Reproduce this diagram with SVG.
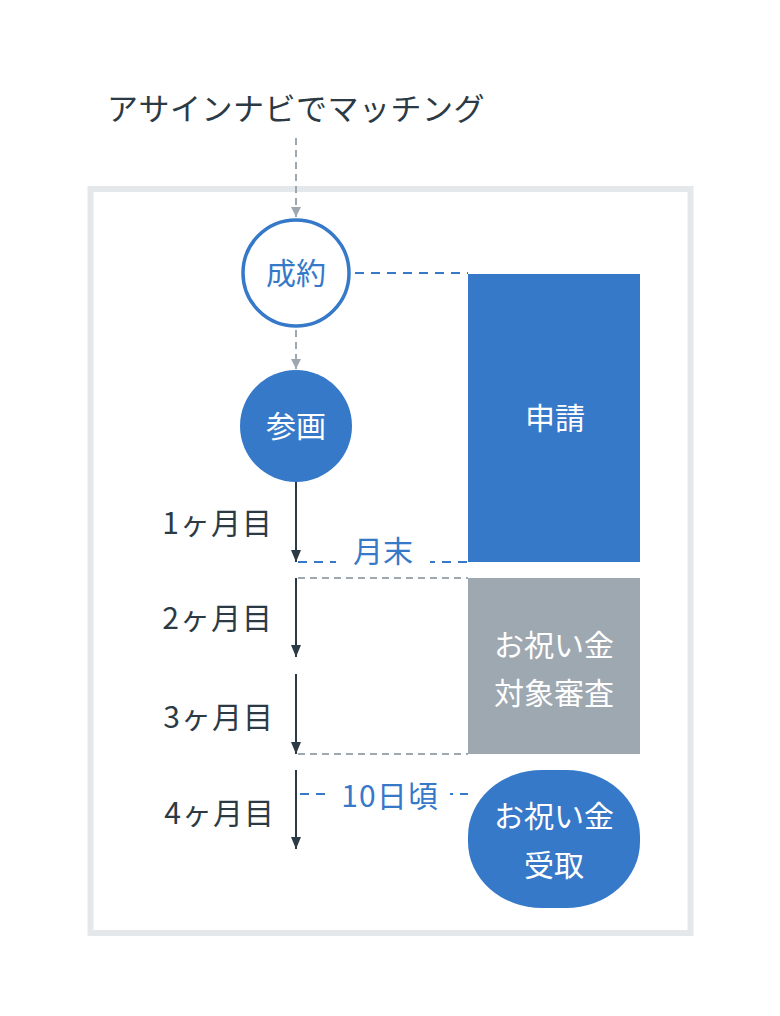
<svg xmlns="http://www.w3.org/2000/svg" width="780" height="1016" viewBox="0 0 780 1016">
<style>
text{font-family:"Noto Sans CJK JP","Noto Sans",sans-serif;font-size:30px;font-weight:400;}
.dark{fill:#2b3a44;}
.blue{fill:#3679c9;}
.white{fill:#ffffff;}
.mid{text-anchor:middle;}
.end{text-anchor:end;}
.lab{letter-spacing:1px;}
.dashGray{stroke:#9ea8b1;stroke-width:2;stroke-dasharray:7 5;fill:none;}
.dashBlue{stroke:#3679c9;stroke-width:2;stroke-dasharray:9 7;fill:none;}
.solid{stroke:#2b3a44;stroke-width:2;fill:none;}
</style>
<defs>
<marker id="arrDark" viewBox="0 0 12 10" refX="12" refY="5" markerWidth="12" markerHeight="10" markerUnits="userSpaceOnUse" orient="auto">
<path d="M0,0 L12,5 L0,10 Z" fill="#2b3a44"/>
</marker>
<marker id="arrGray" viewBox="0 0 10 10" refX="10" refY="5" markerWidth="10" markerHeight="10" markerUnits="userSpaceOnUse" orient="auto">
<path d="M0,0 L10,5 L0,10 Z" fill="#9ea8b1"/>
</marker>
</defs>
<rect width="780" height="1016" fill="#ffffff"/>
<rect id="frame" x="90.5" y="189" width="600" height="744" fill="none" stroke="#e4e8eb" stroke-width="6"/>

<g id="connectors">
<line class="dashGray" x1="296" y1="138" x2="296" y2="217" marker-end="url(#arrGray)"/>
<line class="dashGray" x1="296" y1="330" x2="296" y2="369" marker-end="url(#arrGray)"/>
<line class="dashBlue" x1="355" y1="273" x2="468" y2="273"/>
<line class="solid" x1="296" y1="482" x2="296" y2="562" marker-end="url(#arrDark)"/>
<line class="solid" x1="296" y1="578" x2="296" y2="657" marker-end="url(#arrDark)"/>
<line class="solid" x1="296" y1="674" x2="296" y2="754" marker-end="url(#arrDark)"/>
<line class="solid" x1="296" y1="770" x2="296" y2="849" marker-end="url(#arrDark)"/>
<line class="dashBlue" x1="298" y1="562" x2="468" y2="562"/>
<line class="dashGray" x1="298" y1="578" x2="468" y2="578"/>
<line class="dashGray" x1="298" y1="754" x2="468" y2="754"/>
<line class="dashBlue" x1="300" y1="794" x2="468" y2="794"/>
</g>

<g id="title"><text class="dark mid" x="296" y="120" style="font-size:31px;letter-spacing:0.5px">アサインナビでマッチング</text></g>

<g id="seiyaku">
<circle cx="296" cy="273" r="53" fill="#ffffff" stroke="#3679c9" stroke-width="3.5"/>
<text class="blue mid" x="296" y="284">成約</text>
</g>

<g id="sankaku">
<circle cx="296" cy="426" r="56" fill="#3679c9"/>
<text class="white mid" x="296" y="437">参画</text>
</g>

<g id="shinsei">
<rect x="468" y="274" width="172" height="288" fill="#3679c9"/>
<text class="white mid" x="555" y="429">申請</text>
</g>

<g id="shinsa">
<rect x="468" y="578" width="172" height="176" fill="#9ea8b1"/>
<text class="white mid" x="554" y="656">お祝い金</text>
<text class="white mid" x="554" y="704">対象審査</text>
</g>

<g id="jushu">
<rect x="468" y="770" width="172" height="138" rx="74" ry="66" fill="#3679c9"/>
<text class="white mid" x="554" y="827">お祝い金</text>
<text class="white mid" x="554" y="876">受取</text>
</g>

<g id="getsumatsu">
<rect x="336" y="540" width="94" height="30" fill="#ffffff"/>
<text class="blue mid" x="383" y="562">月末</text>
</g>

<g id="tooka">
<rect x="326" y="778" width="124" height="34" fill="#ffffff"/>
<text class="blue mid lab" x="390" y="807">10日頃</text>
</g>

<g id="month1"><text class="dark end lab" x="273" y="534">1ヶ月目</text></g>
<g id="month2"><text class="dark end lab" x="273" y="629">2ヶ月目</text></g>
<g id="month3"><text class="dark end lab" x="274" y="728">3ヶ月目</text></g>
<g id="month4"><text class="dark end lab" x="275" y="824">4ヶ月目</text></g>
</svg>
